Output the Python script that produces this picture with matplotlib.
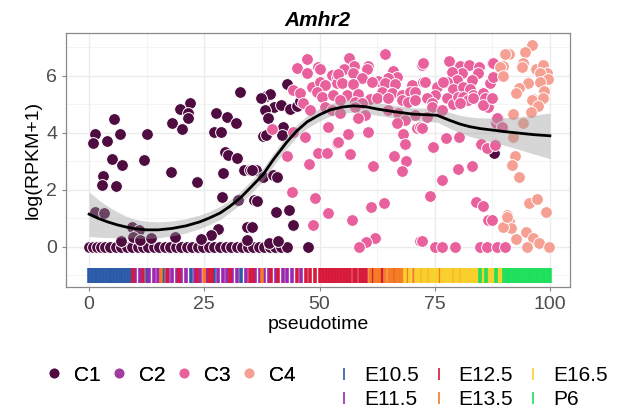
import numpy as np
import matplotlib
matplotlib.use("Agg")
from matplotlib import pyplot as plt
from matplotlib.lines import Line2D

plt.rcParams['font.family'] = ['Liberation Sans', 'DejaVu Sans']

# cells: (pseudotime, log(RPKM+1)) per cluster
c1_zero_x = [0, 0.8, 1.7, 2.6, 3.5, 4.6, 5.8, 7, 8.2, 9.3, 10.5, 11.7, 12.8, 14, 15.2,
             16.4, 17.6, 18.8, 20, 21.2, 22.4, 23.6, 24.8, 26, 27.2, 28.4, 29.6, 30.8,
             32, 33.2, 34.4, 35.6, 36.8, 38, 39.2, 40.4, 41.6, 43, 47.5]
c1_pts = [(5.4, 4.49), (1.3, 3.96), (0.9, 3.65), (3.9, 3.72), (6.7, 3.96), (12.5, 3.96),
          (5.0, 3.09), (7.2, 2.88), (12.0, 3.05), (3.0, 2.49), (2.8, 2.18), (5.9, 2.14),
          (1.3, 1.23), (3.3, 1.19), (9.3, 0.70), (10.8, 0.60), (9.5, 0.35), (7, 0.2),
          (11, 0.25), (13.5, 0.3),
          (32.8, 5.44), (21.9, 5.05), (19.7, 4.84), (21.5, 4.70), (21.5, 4.53), (18.0, 4.35),
          (20.2, 4.14), (27.5, 4.70), (29.9, 4.56), (31.9, 4.35), (27.1, 4.04), (28.6, 4.04),
          (29.5, 3.33), (30.2, 3.23), (32.1, 3.12), (17.8, 2.63), (23.4, 2.28), (29.1, 2.60),
          (33.6, 2.70), (34.9, 2.70), (28.9, 1.75), (32.3, 1.65), (28.0, 0.63), (26.5, 0.42),
          (34.3, 0.70), (24.3, 0.28), (18.7, 0.35), (34.3, 0.25),
          (43.0, 5.72), (38.4, 5.30), (39.3, 5.37), (37.3, 5.23), (40.1, 4.91), (41.6, 4.98),
          (38.2, 4.81), (43.6, 4.84), (45.1, 4.95), (45.8, 5.12), (38.8, 4.53), (42.1, 4.21),
          (37.7, 3.89), (38.3, 3.92), (41.9, 3.93), (36.2, 2.70), (35.4, 2.70), (37.7, 2.46),
          (39.9, 2.53), (40.8, 2.46), (35.8, 1.65), (36.4, 1.60), (40.6, 1.23), (43.4, 1.30),
          (44.3, 0.77), (35.4, 0.70), (39, 0.15), (41, 0.2), (87.9, 3.30)]
c3_pts = [(47.3, 6.60), (45.1, 6.28), (47.3, 6.10), (49.7, 6.32), (50.1, 6.25), (52.7, 6.04),
          (53.8, 5.97), (48.4, 5.61), (50.1, 5.79), (51.2, 5.68), (49.5, 5.44), (50.5, 5.26),
          (52.9, 5.33), (53.8, 5.75), (44.3, 5.51), (45.8, 5.40), (46.4, 5.05), (47.9, 4.81),
          (51.2, 4.91), (52.7, 4.81), (39.7, 4.14), (44.3, 4.04), (46.9, 3.86), (51.8, 4.21),
          (53.8, 3.65), (43.0, 3.19), (49.7, 3.30), (51.6, 3.30), (47.7, 2.91), (44.0, 1.93),
          (49.0, 1.72), (51.8, 1.19), (48.6, 0.77),
          (64.2, 6.77), (56.4, 6.63), (57.5, 6.35), (60.5, 6.35), (60.3, 6.25), (55.3, 6.25),
          (54.0, 6.07), (57.3, 6.11), (59.2, 5.93), (54.9, 5.75), (57.3, 5.72), (65.9, 6.18),
          (66.8, 5.97), (64.9, 5.93), (62.7, 5.82), (61.4, 5.79), (64.2, 5.75), (66.4, 5.72),
          (70.1, 5.68), (72.2, 6.39), (72.5, 5.79), (63.6, 5.44), (65.7, 5.40), (67.9, 5.33),
          (69.6, 5.44), (70.7, 5.44), (56.0, 5.33), (58.4, 5.37), (61.0, 5.19), (62.5, 5.23),
          (64.9, 5.23), (67.9, 5.16), (69.2, 5.09), (70.7, 5.16), (57.7, 5.09), (59.2, 5.05),
          (54.4, 5.16), (54.4, 4.70), (57.7, 4.91), (59.9, 4.63), (64.9, 4.81), (67.0, 4.70),
          (70.7, 4.63), (68.5, 4.46), (66.8, 4.35), (71.1, 4.18), (71.8, 4.21), (58.4, 4.53),
          (60.5, 4.04), (56.2, 3.96), (54.0, 3.68), (68.1, 3.96), (68.5, 3.61), (56.6, 3.26),
          (66.2, 3.19), (68.8, 3.02), (67.9, 2.67), (61.6, 2.84), (61.2, 1.40), (64.0, 1.54),
          (57.0, 0.95), (62.0, 0.32), (60.1, 0.18), (58.6, 0.0), (71.8, 0.21),
          (72.5, 6.46), (78.1, 6.53), (80.5, 6.35), (82.4, 6.39), (84.6, 6.32), (87.4, 6.46),
          (80.9, 6.11), (78.7, 6.14), (84.4, 6.11), (83.1, 5.86), (79.8, 5.86), (77.7, 5.79),
          (87.0, 5.75), (72.9, 5.79), (75.5, 5.61), (76.8, 5.79), (75.1, 5.33), (79.0, 5.54),
          (81.1, 5.61), (82.6, 5.54), (83.3, 5.33), (85.5, 5.40), (73.3, 5.23), (74.4, 5.05),
          (77.7, 5.23), (79.0, 5.02), (80.0, 5.26), (81.1, 5.26), (82.2, 5.16), (83.3, 5.23),
          (85.9, 5.23), (86.6, 4.91), (85.5, 4.98), (80.5, 5.05), (74.4, 4.91), (76.6, 4.81),
          (73.3, 4.56), (72.2, 4.18), (88.7, 4.53), (88.3, 4.35), (77.4, 3.82), (80.3, 3.86),
          (74.6, 3.51), (85.0, 3.61), (86.3, 3.47), (88.1, 3.61), (80.0, 2.74), (83.1, 2.84),
          (76.6, 2.35), (74.0, 1.79), (83.9, 1.58), (85.5, 1.44), (86.6, 0.95), (72.2, 0.21),
          (75.1, 0), (76.6, 0), (79.4, 0), (84.8, 0), (86.3, 0), (88.5, 0), (90.2, 0),
          (87.6, 6.46), (87.6, 5.96), (87.4, 5.23), (88.5, 4.53), (89.6, 4.21), (88.1, 3.58),
          (87.4, 0.95)]
c4_pts = [(96.1, 7.09), (94.6, 6.84), (91.1, 6.77), (94.1, 6.46), (93.9, 6.32), (89.8, 6.35),
          (97.0, 6.25), (98.5, 6.39), (99.3, 6.11), (97.8, 6.11), (99.6, 5.89), (97.8, 5.79),
          (95.2, 5.75), (93.3, 5.58), (92.6, 5.40), (98.7, 5.47), (96.3, 5.19), (96.1, 5.16),
          (98.5, 5.23), (97.4, 4.95), (95.9, 4.74), (92.0, 4.67), (94.1, 4.35), (92.0, 3.86),
          (92.4, 3.19), (91.8, 2.88), (93.3, 2.46), (95.4, 1.54), (97.2, 1.68), (99.1, 1.23),
          (90.7, 1.12), (91.1, 0.91), (91.5, 0.67), (94.8, 0.53), (96.3, 0.32), (97.6, 0.14),
          (92.6, 0.28), (99.8, 0.0), (95.0, 0.0), (89.2, 6.32), (89.8, 6.0), (90.2, 6.77),
          (89.8, 0.70), (90.7, 1.05)]

# smoothed fit and its confidence band
fit_x = [0, 2, 4, 6, 8, 10, 12.5, 15, 18, 21, 24, 26, 28.4, 30.5, 32.8, 35, 37.7, 40,
         42.9, 45, 47.3, 50, 52.3, 55, 57.3, 60, 62.5, 66, 70.3, 73, 75.5, 78.3, 80.5,
         82.6, 85, 87.6, 90, 93.5, 96.5, 100]
fit_y = [1.15, 1.00, 0.88, 0.78, 0.70, 0.64, 0.60, 0.60, 0.65, 0.74, 0.88, 1.01, 1.19,
         1.42, 1.72, 2.08, 2.53, 3.07, 3.68, 4.06, 4.39, 4.64, 4.81, 4.91, 4.95, 4.92,
         4.84, 4.75, 4.66, 4.64, 4.62, 4.44, 4.31, 4.22, 4.15, 4.10, 4.05, 3.99, 3.94,
         3.90]
fit_se = [0.78, 0.66, 0.55, 0.46, 0.38, 0.33, 0.30, 0.28, 0.26, 0.25, 0.24, 0.23, 0.23,
          0.22, 0.22, 0.22, 0.22, 0.22, 0.22, 0.22, 0.22, 0.22, 0.22, 0.22, 0.22, 0.22,
          0.22, 0.22, 0.22, 0.23, 0.24, 0.28, 0.31, 0.34, 0.38, 0.42, 0.48, 0.58, 0.68,
          0.80]

# developmental stage of cells along pseudotime (rug)
stage_names = ['E10.5', 'E11.5', 'E12.5', 'E13.5', 'E16.5', 'P6']
stage_colors = ['#2B5BA8', '#9C27B0', '#D7193A', '#F57C22', '#F9CF2C', '#1FE05D']
rug_e105 = [0, 0.6, 1.2, 1.8, 2.4, 3, 3.6, 4.2, 4.8, 5.4, 6, 6.6, 7.2, 7.8, 8.4, 9,
            12.5, 16, 22, 27, 33]
rug_e115 = [10, 11, 13, 14, 15, 17, 18, 19, 20, 21, 23, 24, 25.5, 28, 29, 30, 31, 32,
            34, 36, 37, 38, 39, 40.5, 42, 43, 44, 46]
rug_e125 = [9.6, 11.7, 16.8, 19.6, 23.5, 26, 26.6, 30.5, 34.8, 35.5, 39.5, 41, 45, 47,
            48, 49, 50, 50.7, 51.4, 52, 52.7, 53.4, 54, 54.7, 55.4, 56, 56.7, 57.4, 58,
            58.7, 59.4, 60, 61.5, 63.5, 66]
rug_e135 = [15.5, 25, 37.5, 61, 62, 62.7, 63, 64.3, 65, 65.7, 66.6, 67.3, 68, 69, 70.5,
            72, 73.5, 76, 79, 80.5, 83, 86]
rug_e165 = [68.6, 69.7, 71, 71.5, 72.5, 73, 74, 74.5, 75, 75.5, 76.5, 77, 77.5, 78, 78.5,
            79.5, 80, 81, 81.5, 82, 82.5, 83, 83.5, 84, 84.5, 85, 85.5, 86, 86.5, 87,
            87.5, 88, 88.5, 89, 89.5]
rug_p6 = [84.8, 86.2, 88.2, 90, 90.6, 91.2, 91.8, 92.4, 93, 93.6, 94.2, 94.8, 95.4, 96,
          96.6, 97.2, 97.8, 98.4, 99, 99.6, 100]
rug_lists = [rug_e105, rug_e115, rug_e125, rug_e135, rug_e165, rug_p6]

cluster_names = ['C1', 'C2', 'C3', 'C4']
cluster_colors = ['#4E0C40', '#A23C9F', '#E8609C', '#F6A093']

fig = plt.figure(figsize=(6.24, 4.2), dpi=100)
ax = fig.add_axes([0.106, 0.317, 0.807, 0.604])

# panel grid (theme_bw)
for v in [0, 2, 4, 6]:
    ax.axhline(v, color='#EBEBEB', lw=1.0, zorder=0)
for v in [-1, 1, 3, 5, 7]:
    ax.axhline(v, color='#F2F2F2', lw=0.6, zorder=0)
for v in [0, 25, 50, 75, 100]:
    ax.axvline(v, color='#EBEBEB', lw=1.0, zorder=0)
for v in [12.5, 37.5, 62.5, 87.5]:
    ax.axvline(v, color='#F2F2F2', lw=0.6, zorder=0)

pt_kw = dict(s=72, edgecolors='white', linewidths=0.7, zorder=2)
ax.scatter(c1_zero_x, [0] * len(c1_zero_x), color=cluster_colors[0], **pt_kw)
ax.scatter([p[0] for p in c1_pts], [p[1] for p in c1_pts], color=cluster_colors[0], **pt_kw)
ax.scatter([p[0] for p in c3_pts], [p[1] for p in c3_pts], color=cluster_colors[2], **pt_kw)
ax.scatter([p[0] for p in c4_pts], [p[1] for p in c4_pts], color=cluster_colors[3], **pt_kw)

fx = np.array(fit_x)
fy = np.array(fit_y)
fs = np.array(fit_se)
ax.fill_between(fx, fy - fs, fy + fs, color='#999999', alpha=0.4, lw=0, zorder=3)
ax.plot(fx, fy, color='black', lw=2.0, zorder=4, solid_joinstyle='round')

for xs, col in zip(rug_lists, stage_colors):
    ax.vlines(xs, -1.25, -0.75, colors=col, lw=2.6, zorder=1)

ax.set_xlim(-5, 104.3)
ax.set_ylim(-1.4, 7.5)
ax.set_xticks([0, 25, 50, 75, 100])
ax.set_yticks([0, 2, 4, 6])
ax.tick_params(labelsize=14, colors='#888888', labelcolor='#4D4D4D', length=3, width=0.8)
for s in ax.spines.values():
    s.set_color('#888888')
    s.set_linewidth(0.9)
ax.set_xlabel('pseudotime', fontsize=14, labelpad=2)
ax.set_ylabel('log(RPKM+1)', fontsize=14, labelpad=3)
ax.set_title('Amhr2', fontsize=15, fontweight='bold', fontstyle='italic', pad=5)

h1 = [Line2D([], [], ls='', marker='o', ms=6, color=c) for c in cluster_colors]
leg1 = fig.legend(h1, cluster_names, ncol=4, loc='center left',
                  bbox_to_anchor=(0.073, 0.107), frameon=False, fontsize=15,
                  borderpad=0, borderaxespad=0,
                  handlelength=0.8, handletextpad=0.56, columnspacing=0.49)
h2 = [Line2D([], [], ls='', marker='|', ms=9, mew=1.2, color=c) for c in stage_colors]
fig.legend(h2, stage_names, ncol=3, loc='center left',
           bbox_to_anchor=(0.538, 0.077), frameon=False, fontsize=15,
           borderpad=0, borderaxespad=0,
           handlelength=0.8, handletextpad=0.56, columnspacing=0.55,
           labelspacing=0.27)
fig.add_artist(leg1)

fig.savefig('out.png', dpi=100)
